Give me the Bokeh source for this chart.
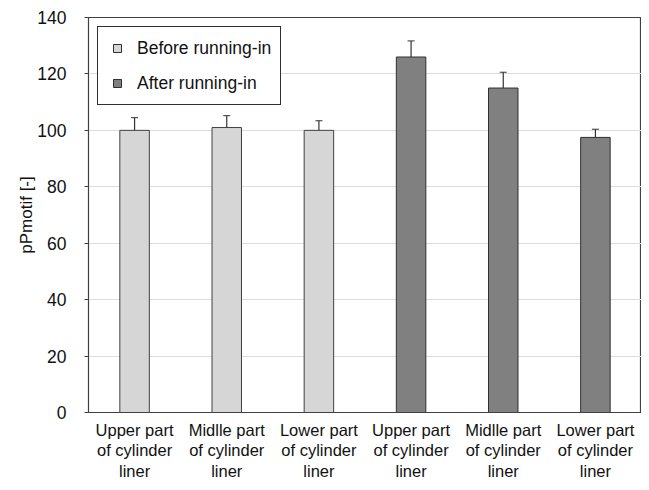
from bokeh.plotting import figure
from bokeh.models import ColumnDataSource, Range1d, FixedTicker, Whisker, Legend, LegendItem
from bokeh.embed import file_html
from bokeh.resources import INLINE

categories = ["Upper part\nof cylinder\nliner", "Midlle part\nof cylinder\nliner", "Lower part\nof cylinder\nliner",
              "Upper part\nof cylinder\nliner", "Midlle part\nof cylinder\nliner", "Lower part\nof cylinder\nliner"]
series_names = ["Before running-in", "After running-in"]
before_values = [100, 101, 100]
before_err = [4.5, 4.2, 3.4]
after_values = [126, 115, 97.5]
after_err = [5.7, 5.6, 2.9]
y_ticks = [0, 20, 40, 60, 80, 100, 120, 140]

FONT = "Liberation Sans"
xs = [i + 0.5 for i in range(len(categories))]
b_x = xs[:3]
a_x = xs[3:]

p = figure(width=641, height=482, output_backend="svg", toolbar_location=None,
           x_range=Range1d(0, 6), y_range=Range1d(0, 140),
           min_border_left=88, min_border_right=0, min_border_top=17, min_border_bottom=67)
p.background_fill_color = "white"
p.border_fill_color = "white"
p.outline_line_color = "#404040"
p.outline_line_width = 1.2

src_b = ColumnDataSource(dict(x=b_x, top=before_values,
                              upper=[v + e for v, e in zip(before_values, before_err)],
                              lower=[v - e for v, e in zip(before_values, before_err)]))
src_a = ColumnDataSource(dict(x=a_x, top=after_values,
                              upper=[v + e for v, e in zip(after_values, after_err)],
                              lower=[v - e for v, e in zip(after_values, after_err)]))

rb = p.vbar(x="x", top="top", width=0.32, bottom=0, source=src_b,
            fill_color="#d6d6d6", line_color="#404040", line_width=1)
ra = p.vbar(x="x", top="top", width=0.32, bottom=0, source=src_a,
            fill_color="#808080", line_color="#303030", line_width=1)

for s in (src_b, src_a):
    w = Whisker(base="x", upper="upper", lower="lower", source=s,
                line_color="#333333", line_width=1.2)
    w.upper_head.size = 7
    w.lower_head.size = 7
    w.upper_head.line_color = "#333333"
    w.lower_head.line_color = "#333333"
    p.add_layout(w)

lb = p.scatter(x=[-10], y=[-10], marker="square", size=11, fill_color="#d6d6d6", line_color="#303030")
la = p.scatter(x=[-10], y=[-10], marker="square", size=11, fill_color="#808080", line_color="#303030")
legend = Legend(items=[LegendItem(label=series_names[0], renderers=[lb]),
                       LegendItem(label=series_names[1], renderers=[la])],
                location="top_left")
legend.label_text_font = FONT
legend.label_text_font_size = "17.5px"
legend.label_text_color = "#111111"
legend.border_line_color = "#303030"
legend.border_line_width = 1.5
legend.border_line_alpha = 1
legend.margin = 9
legend.padding = 9
legend.spacing = 11
legend.glyph_width = 20
legend.glyph_height = 24
legend.label_height = 24
legend.label_standoff = 10
legend.background_fill_alpha = 1
p.add_layout(legend)

p.yaxis.ticker = FixedTicker(ticks=y_ticks)
p.yaxis.axis_label = "pPmotif [-]"
p.yaxis.axis_label_text_font = FONT
p.yaxis.axis_label_text_font_style = "normal"
p.yaxis.axis_label_text_font_size = "17px"
p.yaxis.axis_label_text_color = "#111111"
p.yaxis.axis_label_standoff = -2
p.yaxis.major_label_text_font = FONT
p.yaxis.major_label_text_font_size = "17.5px"
p.yaxis.major_label_text_color = "#111111"
p.yaxis.axis_line_color = "#404040"
p.yaxis.major_tick_in = 0
p.yaxis.major_tick_out = 4
p.yaxis.major_tick_line_color = "#404040"
p.yaxis.minor_tick_line_color = None
p.yaxis.major_label_standoff = 18

p.xaxis.ticker = FixedTicker(ticks=xs)
p.xaxis.major_label_overrides = {x: c for x, c in zip(xs, categories)}
p.xaxis.major_label_text_font = FONT
p.xaxis.major_label_text_font_size = "16.5px"
p.xaxis.major_label_text_color = "#111111"
p.xaxis.major_label_text_align = "center"
p.xaxis.major_label_text_line_height = 1.15
p.xaxis.major_tick_line_color = None
p.xaxis.minor_tick_line_color = None
p.xaxis.axis_line_color = "#404040"
p.xaxis.major_label_standoff = 2

p.xgrid.grid_line_color = None
p.ygrid.grid_line_color = "#dcdcdc"
p.ygrid.grid_line_width = 1

open("out.html", "w").write(file_html(p, INLINE))
